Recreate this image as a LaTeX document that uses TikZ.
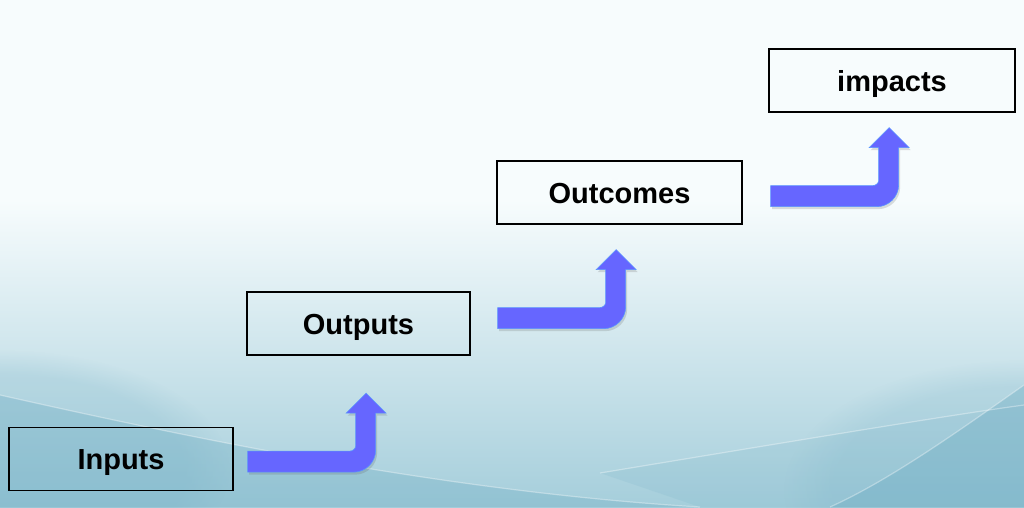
\documentclass[tikz,border=0pt]{standalone}
\usepackage{fontspec}
\setmainfont{Liberation Sans}
\usetikzlibrary{shadows,calc,fadings}
\definecolor{arrowblue}{RGB}{102,102,255}
\definecolor{arrowedge}{RGB}{90,150,255}
\definecolor{bgtop}{RGB}{247,252,253}
\definecolor{bgA}{RGB}{234,244,248}
\definecolor{bgbot}{RGB}{165,206,219}
\definecolor{tealdark}{RGB}{112,174,196}
\tikzset{
  stagebox/.style={draw=black, line width=1.3pt, minimum height=63pt, inner sep=0pt,
    font=\fontsize{29}{34}\selectfont\bfseries, text height=21pt, text depth=0pt},
  bentarrow/.style={fill=arrowblue, draw=arrowedge, line width=0.6pt,
    drop shadow={opacity=0.22, shadow xshift=1.5pt, shadow yshift=-2.5pt, fill=black!60}},
  glint/.style={draw=white, line width=1.2pt, opacity=0.35}
}
\newcommand\stagearrow{%
  (0,-21) -- (102,-21) .. controls (105.3,-21) and (108,-23.7) .. (108,-26)
  -- (108,-59) -- (98.5,-59) -- (118.5,-79) -- (138.5,-59) -- (128,-59)
  -- (128,-22) .. controls (128,-9.9) and (118.1,0) .. (106,0) -- (0,0) -- cycle}
\begin{document}
\begin{tikzpicture}[x=1pt,y=-1pt]
\useasboundingbox (0,0) rectangle (1024,507);
% background
\fill[bgtop] (0,0) rectangle (1024,201);
\shade[top color=bgtop, middle color=bgA, bottom color=bgbot] (0,200) rectangle (1024,507);
\fill[tealdark, opacity=0.2, path fading=circle with fuzzy edge 20 percent]
  (0,470) ellipse [x radius=230, y radius=120];
\fill[tealdark, opacity=0.18, path fading=circle with fuzzy edge 20 percent]
  (1024,490) ellipse [x radius=240, y radius=130];
\fill[tealdark, opacity=0.35]
  (0,395) .. controls (200,440) and (450,492) .. (700,507) -- (0,507) -- cycle;
\fill[tealdark, opacity=0.4]
  (1024,385) .. controls (960,430) and (890,480) .. (830,507) -- (1024,507) -- cycle;
\fill[tealdark, opacity=0.15]
  (600,473) .. controls (800,440) and (950,415) .. (1024,405) -- (1024,507) -- (700,507) -- cycle;
\draw[glint] (0,395) .. controls (200,440) and (450,492) .. (700,507);
\draw[glint] (600,473) .. controls (800,440) and (950,415) .. (1024,405);
\draw[glint] (830,507) .. controls (890,480) and (960,430) .. (1024,385);
% boxes
\node[stagebox, minimum width=224pt] (in)  at (121,459)   {Inputs};
\node[stagebox, minimum width=223pt] (out) at (358.5,323.5) {Outputs};
\node[stagebox, minimum width=245pt] (oc)  at (619.5,192.5) {Outcomes};
\node[stagebox, minimum width=246pt] (im)  at (892,80.5)  {impacts};
% arrows
\coordinate (a1) at ($(in.south east)+(14,-19)$);
\coordinate (a2) at ($(out.south east)+(27,-27)$);
\coordinate (a3) at ($(oc.south east)+(28,-18)$);
\begin{scope}[shift={(a1)}] \path[bentarrow] \stagearrow; \end{scope}
\begin{scope}[shift={(a2)}] \path[bentarrow] \stagearrow; \end{scope}
\begin{scope}[shift={(a3)}] \path[bentarrow] \stagearrow; \end{scope}
\end{tikzpicture}
\end{document}
